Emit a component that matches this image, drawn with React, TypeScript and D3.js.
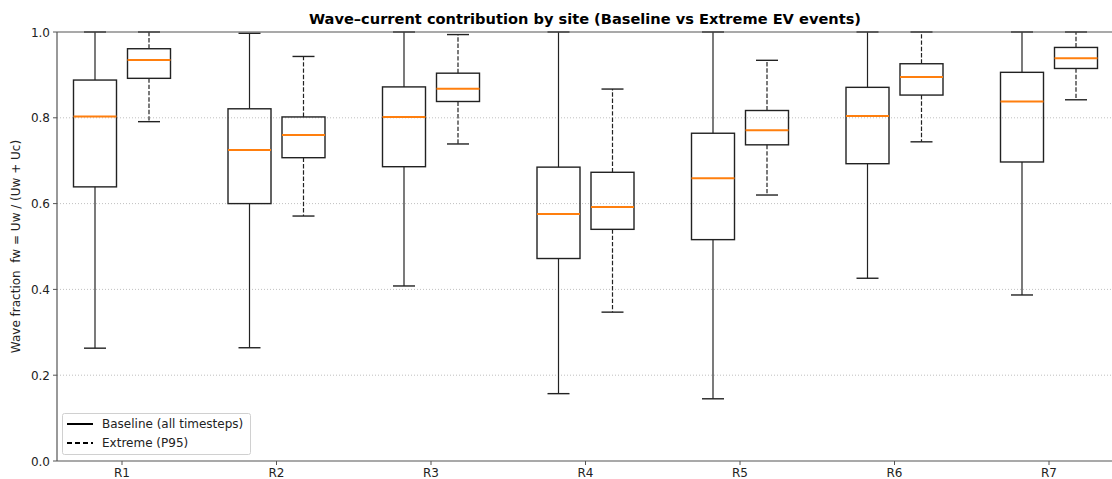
import React from "react";
import * as d3 from "d3";

const sites = ["R1", "R2", "R3", "R4", "R5", "R6", "R7"];
// [whiskerLow, q1, median, q3, whiskerHigh]
const baseline = [
  [0.263, 0.639, 0.803, 0.888, 1.0],
  [0.264, 0.600, 0.725, 0.821, 0.997],
  [0.408, 0.686, 0.802, 0.872, 1.0],
  [0.157, 0.472, 0.576, 0.685, 1.0],
  [0.145, 0.516, 0.659, 0.764, 1.0],
  [0.426, 0.693, 0.804, 0.871, 1.0],
  [0.387, 0.697, 0.838, 0.906, 1.0],
];
const extreme = [
  [0.791, 0.892, 0.935, 0.961, 1.0],
  [0.571, 0.707, 0.760, 0.802, 0.943],
  [0.739, 0.838, 0.868, 0.904, 0.994],
  [0.347, 0.540, 0.592, 0.673, 0.867],
  [0.620, 0.737, 0.771, 0.817, 0.934],
  [0.744, 0.853, 0.895, 0.926, 1.0],
  [0.842, 0.915, 0.939, 0.964, 1.0],
];
const yTicks = [0, 0.2, 0.4, 0.6, 0.8, 1.0];
const seriesLabels = ["Baseline (all timesteps)", "Extreme (P95)"];

const W = 1112, H = 479;
const left = 57, top = 32, bottom = 461;

export default function App() {
  const x = d3.scalePoint<string>().domain(sites).range([122, 1049]);
  const y = d3.scaleLinear().domain([0, 1]).range([bottom, top]);
  const off = 27, bw = 43, cw = 22;
  const font = "DejaVu Sans, sans-serif";

  const box = (d: number[], cx: number, dashed: boolean, key: string) => {
    const [lo, q1, med, q3, hi] = d;
    const dash = dashed ? "4.4,1.9" : undefined;
    return (
      <g key={key}>
        <line x1={cx} x2={cx} y1={y(q3)} y2={y(hi)} stroke="#222" strokeWidth={1.2} strokeDasharray={dash} />
        <line x1={cx} x2={cx} y1={y(q1)} y2={y(lo)} stroke="#222" strokeWidth={1.2} strokeDasharray={dash} />
        <line x1={cx - cw / 2} x2={cx + cw / 2} y1={y(hi)} y2={y(hi)} stroke="#222" strokeWidth={1.4} />
        <line x1={cx - cw / 2} x2={cx + cw / 2} y1={y(lo)} y2={y(lo)} stroke="#222" strokeWidth={1.4} />
        <rect x={cx - bw / 2} y={y(q3)} width={bw} height={y(q1) - y(q3)} fill="none" stroke="#222" strokeWidth={1.4} />
        <line x1={cx - bw / 2} x2={cx + bw / 2} y1={y(med)} y2={y(med)} stroke="#ff7f0e" strokeWidth={2} />
      </g>
    );
  };

  return (
    <svg width={W} height={H} style={{ position: "absolute", left: 0, top: 0, background: "#fff" }}>
      <text x={585} y={24} textAnchor="middle" fontFamily={font} fontSize={14.6} fontWeight="bold" fill="#000">
        Wave–current contribution by site (Baseline vs Extreme EV events)
      </text>
      {yTicks.slice(1, 5).map((t) => (
        <line key={"g" + t} x1={left} x2={W} y1={y(t)} y2={y(t)} stroke="#b0b0b0" strokeWidth={0.8} strokeDasharray="1,2" />
      ))}
      {sites.map((s, i) => box(baseline[i], (x(s) as number) - off, false, "b" + s))}
      {sites.map((s, i) => box(extreme[i], (x(s) as number) + off, true, "e" + s))}
      <line x1={left} x2={W} y1={top} y2={top} stroke="#555" strokeWidth={1.2} />
      <line x1={left} x2={W} y1={bottom} y2={bottom} stroke="#555" strokeWidth={1.2} />
      <line x1={left} x2={left} y1={top} y2={bottom} stroke="#555" strokeWidth={1.2} />
      {yTicks.map((t) => (
        <g key={"t" + t}>
          <line x1={left - 4} x2={left} y1={y(t)} y2={y(t)} stroke="#555" strokeWidth={1} />
          <text x={left - 7} y={y(t) + 4.5} textAnchor="end" fontFamily={font} fontSize={12} fill="#222">
            {t.toFixed(1)}
          </text>
        </g>
      ))}
      {sites.map((s) => (
        <g key={"x" + s}>
          <line x1={x(s)} x2={x(s)} y1={bottom} y2={bottom + 4} stroke="#555" strokeWidth={1} />
          <text x={x(s)} y={bottom + 16} textAnchor="middle" fontFamily={font} fontSize={12} fill="#222">
            {s}
          </text>
        </g>
      ))}
      <text transform={`translate(20,${(top + bottom) / 2}) rotate(-90)`} textAnchor="middle" fontFamily={font} fontSize={12} fill="#222" style={{ whiteSpace: "pre" }}>
        {"Wave fraction  fw = Uw / (Uw + Uc)"}
      </text>
      <g>
        <rect x={62.5} y={413.5} width={188} height={41} rx={2} fill="#fff" fillOpacity={0.8} stroke="#d0d0d0" strokeWidth={1} />
        <line x1={67} x2={93} y1={424} y2={424} stroke="#000" strokeWidth={2} />
        <line x1={67} x2={93} y1={443} y2={443} stroke="#000" strokeWidth={2} strokeDasharray="5,3" />
        <text x={102} y={428} fontFamily={font} fontSize={12} fill="#222">{seriesLabels[0]}</text>
        <text x={102} y={447} fontFamily={font} fontSize={12} fill="#222">{seriesLabels[1]}</text>
      </g>
    </svg>
  );
}
